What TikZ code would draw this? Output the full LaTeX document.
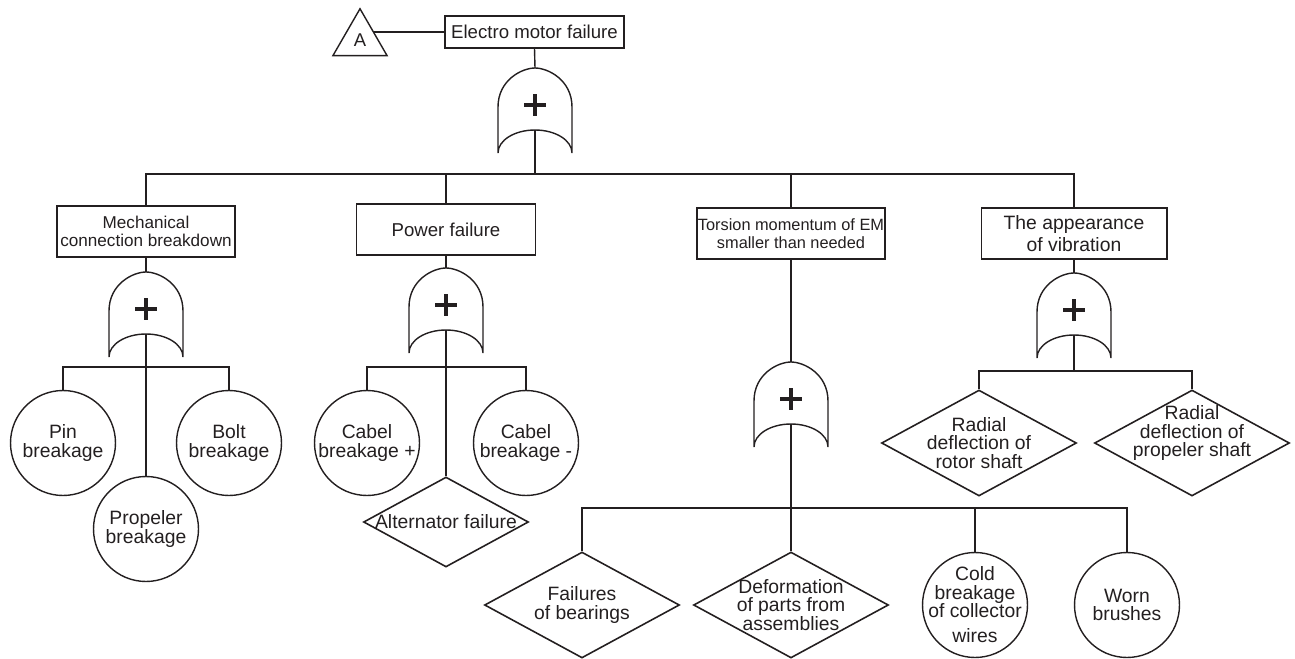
\documentclass[tikz,border=0pt]{standalone}
\usepackage{fontspec}
\setmainfont{Liberation Sans}
\usetikzlibrary{shapes.geometric}
\definecolor{ink}{RGB}{35,31,32}
\tikzset{
  orgate/.pic={
    \draw [line width=0.8pt] (-37,85) -- (-37,39)
      .. controls (-37,12) and (-13,0) .. (0,0)
      .. controls (13,0) and (37,12) .. (37,39) -- (37,85)
      arc [start angle=0,end angle=-180,x radius=37,y radius=23] ;
    \draw [line width=2.3pt] (-11,37) -- (11,37) (0,26) -- (0,48) ;
    \coordinate (-in) at (0,0) ;
    \coordinate (-out) at (0,62) ;
  },
  evbox/.style={draw, rectangle, line width=0.6pt, inner sep=0pt, align=center, minimum height=1.02cm},
  evcirc/.style={draw, circle, minimum size=2.1cm, inner sep=0pt, line width=0.8pt},
  evdiam/.style={draw, diamond, minimum width=3.9cm, minimum height=2.12cm, inner sep=0pt, line width=0.9pt},
  lbl/.style={align=center, inner sep=0pt, font=\fontsize{11}{10.4}\selectfont},
}
\begin{document}
\begin{tikzpicture}[x=0.02cm,y=-0.02cm,color=ink,line width=0.8pt]
    \useasboundingbox (0,0) rectangle (1295,659) ;
    % top event
    \node [draw, regular polygon, regular polygon sides=3, minimum size=1.25cm, inner sep=0pt,
      font=\fontsize{10.5}{12}\selectfont] (tri) at (360,40) {A} ;
    \node [evbox, minimum width=3.58cm, minimum height=0.64cm, font=\fontsize{10.6}{12}\selectfont]
      (top) at (534.5,32) {Electro motor failure} ;
    \pic (g0) at (535,68) {orgate} ;
    \coordinate (b0) at (535,174) ;
    % second level
    \node [evbox, minimum width=3.56cm, font=\fontsize{9.75}{10.4}\selectfont] (mech) at (146,231.5) {Mechanical\\connection breakdown} ;
    \node [evbox, minimum width=3.58cm, font=\fontsize{10.6}{12}\selectfont] (power) at (446,229.5) {Power failure} ;
    \node [evbox, minimum width=3.76cm, font=\fontsize{9.3}{10}\selectfont] (torsion) at (791,233.5) {Torsion momentum of EM\\smaller than needed} ;
    \node [evbox, minimum width=3.72cm, font=\fontsize{11}{12.3}\selectfont] (vib) at (1074,233.5) {The appearance\\of vibration} ;
    \pic (g1) at (146,272) {orgate} ;
    \pic (g2) at (446,268) {orgate} ;
    \pic (g3) at (791,362) {orgate} ;
    \pic (g4) at (1074,273) {orgate} ;
    \coordinate (b1) at (146,367) ;
    \coordinate (b2) at (446,367) ;
    \coordinate (b3) at (791,508) ;
    \coordinate (b4) at (1074,371) ;
    % basic events
    \node [evcirc, label={[lbl]center:Pin\\breakage}] (pin) at (63,443) {} ;
    \node [evcirc, label={[lbl]center:Bolt\\breakage}] (bolt) at (229,443) {} ;
    \node [evcirc, label={[lbl]center:Propeler\\breakage}] (prop) at (146,529) {} ;
    \node [evcirc, label={[lbl]center:Cabel\\breakage +}] (cabp) at (367,443) {} ;
    \node [evcirc, label={[lbl]center:Cabel\\breakage -}] (cabm) at (526,443) {} ;
    \node [evdiam, minimum width=3.3cm, minimum height=1.8cm, label={[lbl]center:Alternator failure}] (alt) at (446,522) {} ;
    \node [evdiam, label={[lbl]center:Failures\\of bearings}] (fail) at (582,605) {} ;
    \node [evdiam, label={[lbl]center:Deformation\\of parts from\\assemblies}] (deform) at (791,605) {} ;
    \node [evcirc, label={[lbl]center:Cold\\breakage\\of collector\\[4pt]wires}] (cold) at (975,605) {} ;
    \node [evcirc, label={[lbl]center:Worn\\brushes}] (worn) at (1127,605) {} ;
    \node [evdiam, label={[lbl]center:Radial\\deflection of\\rotor shaft}] (rotor) at (979,443) {} ;
    \node [evdiam, label={[lbl,yshift=0.2cm]center:Radial\\deflection of\\propeler shaft}] (pshaft) at (1192,443) {} ;
    % connectors
    \draw (tri.side 3) -- (tri.side 3 -| top.west) ;
    \draw (top.south) -- (g0-in) ;
    \draw (g0-out) -- (b0) ;
    \foreach \n in {mech,power,torsion,vib} {
      \draw [line width=1.1pt] (b0) -| (\n.north) ;
    }
    \draw (mech.south) -- (g1-in) ;
    \draw (g1-out) -- (b1) ;
    \foreach \n in {pin,bolt,prop} {
      \draw (b1) -| (\n.north) ;
    }
    \draw (power.south) -- (g2-in) ;
    \draw (g2-out) -- (b2) ;
    \foreach \n in {cabp,cabm,alt} {
      \draw (b2) -| (\n.north) ;
    }
    \draw (torsion.south) -- (g3-in) ;
    \draw (g3-out) -- (b3) ;
    \foreach \n in {fail,deform,cold,worn} {
      \draw (b3) -| (\n.north) ;
    }
    \draw (vib.south) -- (g4-in) ;
    \draw (g4-out) -- (b4) ;
    \foreach \n in {rotor,pshaft} {
      \draw (b4) -| (\n.north) ;
    }
  \end{tikzpicture}
\end{document}
